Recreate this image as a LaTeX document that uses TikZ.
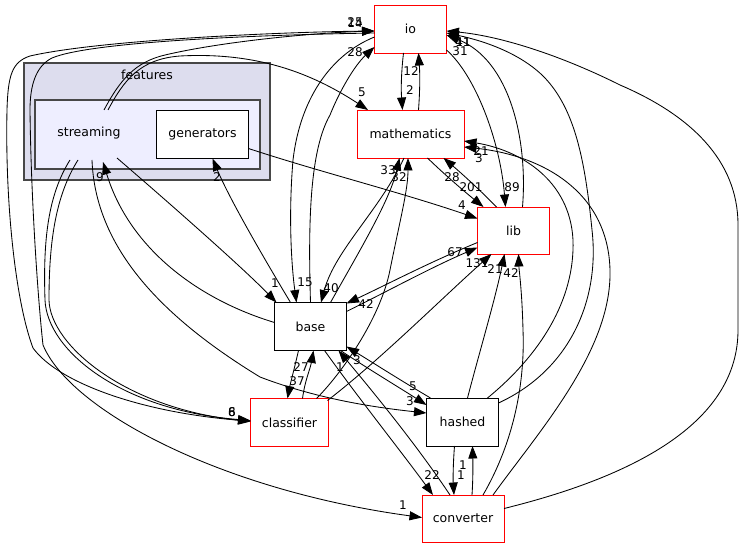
\documentclass[tikz,border=0pt]{standalone}
\usepackage{fontspec}
\setmainfont{DejaVu Sans}
\usetikzlibrary{arrows.meta,calc}
\definecolor{clusterA}{HTML}{DDDDEE}
\definecolor{clusterB}{HTML}{EEEEFF}
\begin{document}
\begin{tikzpicture}[x=1pt,y=-1pt,
  box/.style={draw=black, line width=0.9pt, fill=white, inner sep=0pt, font=\fontsize{12.5}{14}\selectfont},
  redbox/.style={box, draw=red},
  clus/.style={draw=black!72, line width=1.3pt},
  dep/.style={draw=black, line width=0.85pt, -{Triangle[length=12.5pt,width=9pt]}},
  lab/.style={font=\fontsize{12}{13}\selectfont, inner sep=0pt},
  txt/.style={font=\fontsize{12.5}{14}\selectfont, inner sep=0pt},
]
\useasboundingbox (0,0) rectangle (744,548);
% clusters
\draw[clus, fill=clusterA] (24,63) rectangle (270,180);
\node[txt] (featureslabel) at (147,75) {features};
\draw[clus, fill=clusterB] (35,100) rectangle (260,169);
\node[txt] (streaming) at (89,133) {streaming};
\node[box, minimum width=92pt, minimum height=48pt] (generators) at (202.5,134.5) {generators};
% nodes
\node[redbox, minimum width=72pt, minimum height=48pt] (io) at (410.5,29) {io};
\node[redbox, minimum width=107pt, minimum height=48pt] (math) at (410.5,134) {mathematics};
\node[redbox, minimum width=72pt, minimum height=47pt] (lib) at (513.5,230.5) {lib};
\node[box, minimum width=72pt, minimum height=48pt] (base) at (310.5,326.5) {base};
\node[redbox, minimum width=78pt, minimum height=48pt] (classifier) at (289.5,422.5) {classifier};
\node[box, minimum width=72pt, minimum height=48pt] (hashed) at (462.5,422) {hashed};
\node[redbox, minimum width=82pt, minimum height=47pt] (converter) at (463,518.5) {converter};

% edges
% streaming -> io
\draw[dep] ($(streaming)+(15,-23)$) .. controls (120,80) and (135,62) .. (165,55) .. controls (220,42) and (310,33) .. ($(io)+(-36,2)$);
% streaming -> mathematics
\draw[dep] ($(streaming)+(19,-23)$) .. controls (124,80) and (140,59) .. (180,56) .. controls (255,52) and (310,72) .. ($(math)+(-42.5,-24)$);
% classifier -> io (left loop)
\draw[dep] ($(classifier)+(-39,-1.5)$) .. controls (150,415) and (60,385) .. (33,348) .. controls (15,300) and (5,200) .. (7,110) .. controls (8,75) and (12,62) .. (30,56) .. controls (100,40) and (280,32) .. ($(io)+(-36,2)$);
% io -> converter (left loop)
\draw[dep] ($(io)+(-36,4)$) .. controls (250,35) and (90,42) .. (52,58) .. controls (36,66) and (30,85) .. (30,110) .. controls (31,200) and (38,300) .. (43,345) .. controls (70,410) and (220,490) .. ($(converter)+(-41,-1)$);
% streaming -> classifier
\draw[dep] ($(streaming)+(-19,27)$) .. controls (48,195) and (43,240) .. (45,300) .. controls (47,350) and (120,410) .. ($(classifier)+(-39,-2)$);
\draw[dep] ($(streaming)+(-11,27)$) .. controls (56,195) and (49,240) .. (49,300) .. controls (50,345) and (125,408) .. ($(classifier)+(-39,-1)$);
% streaming -> hashed
\draw[dep] ($(streaming)+(3,27)$) .. controls (95,240) and (150,310) .. (260,377) .. controls (320,400) and (380,408) .. ($(hashed)+(-36,-9)$);
% base -> streaming
\draw[dep] ($(base)+(-36,-4)$) .. controls (200,300) and (130,250) .. ($(streaming)+(14,29)$);
% streaming -> base
\draw[dep] ($(streaming)+(28,25)$) .. controls (160,195) and (240,265) .. ($(base)+(-34,-24)$);
% base -> generators
\draw[dep] ($(base)+(-20,-24)$) .. controls (265,260) and (230,200) .. ($(generators)+(10,24)$);
% generators -> lib
\draw[dep] ($(generators)+(46,14)$) .. controls (320,172) and (400,192) .. ($(lib)+(-36,-12)$);
% io <-> mathematics
\draw[dep] ($(io)+(-7,24)$) .. controls (401,75) and (401,90) .. ($(math)+(-8,-24)$);
\draw[dep] ($(math)+(8,-24)$) .. controls (420,90) and (420,75) .. ($(io)+(8,24)$);
% base <-> io
\draw[dep] ($(base)+(0,-24)$) .. controls (308,220) and (310,150) .. (330,115) .. controls (340,90) and (355,65) .. ($(io)+(-36,18)$);
\draw[dep] ($(io)+(-36,8)$) .. controls (330,55) and (300,100) .. (293,160) .. controls (288,220) and (292,270) .. ($(base)+(-14,-24)$);
% mathematics <-> base
\draw[dep] ($(math)+(-6.5,24)$) .. controls (380,210) and (335,250) .. ($(base)+(10.5,-24)$);
\draw[dep] ($(base)+(20,-24)$) .. controls (360,250) and (390,200) .. ($(math)+(-11,24)$);
% classifier -> mathematics
\draw[dep] ($(classifier)+(27,-24)$) .. controls (340,375) and (380,320) .. (390,270) .. controls (400,220) and (408,190) .. ($(math)+(-2.5,24)$);
% classifier -> lib
\draw[dep] ($(classifier)+(38,-22)$) .. controls (380,360) and (440,300) .. ($(lib)+(-22,23.5)$);
% base <-> lib
\draw[dep] ($(base)+(36,-15)$) .. controls (390,290) and (430,268) .. ($(lib)+(-36,17)$);
\draw[dep] ($(lib)+(-36,12)$) .. controls (430,262) and (390,283) .. ($(base)+(36,-23)$);
% hashed -> lib
\draw[dep] ($(hashed)+(5,-24)$) .. controls (480,350) and (495,300) .. ($(lib)+(-9,23.5)$);
% converter -> lib
\draw[dep] ($(converter)+(20,-23.5)$) .. controls (515,440) and (525,380) .. (523,330) .. controls (522,290) and (519,270) .. ($(lib)+(5,23.5)$);
% io <-> lib
\draw[dep] ($(io)+(36,21)$) .. controls (475,75) and (500,140) .. ($(lib)+(-8,-23.5)$);
\draw[dep] ($(lib)+(9,-23.5)$) .. controls (528,140) and (510,60) .. ($(io)+(36,6)$);
% hashed -> io
\draw[dep] ($(hashed)+(36,-19)$) .. controls (570,370) and (600,300) .. (592,230) .. controls (585,160) and (575,110) .. (545,78) .. controls (520,52) and (480,40) .. ($(io)+(36,4)$);
% converter -> io (right loop)
\draw[dep] ($(converter)+(41,-10)$) .. controls (640,475) and (738,420) .. (738,330) -- (738,225) .. controls (738,160) and (690,115) .. (620,85) .. controls (560,55) and (500,36) .. ($(io)+(36,2)$);
% hashed -> mathematics
\draw[dep] ($(hashed)+(25,-24)$) .. controls (540,355) and (575,300) .. (573,240) .. controls (570,180) and (520,150) .. ($(math)+(53.5,7)$);
% converter -> mathematics
\draw[dep] ($(converter)+(30,-23.5)$) .. controls (540,430) and (612,350) .. (610,270) .. controls (608,190) and (540,155) .. ($(math)+(53.5,13)$);
% lib <-> mathematics
\draw[dep] ($(lib)+(-17,-23.5)$) .. controls (480,190) and (460,172) .. ($(math)+(33,24)$);
\draw[dep] ($(math)+(17,24)$) .. controls (445,175) and (465,192) .. ($(lib)+(-30,-23.5)$);
% hashed <-> base
\draw[dep] ($(hashed)+(-32,-24)$) .. controls (400,380) and (375,364) .. ($(base)+(36,20)$);
\draw[dep] ($(base)+(30,24)$) .. controls (370,370) and (400,388) .. ($(hashed)+(-36,-17)$);
% converter <-> base
\draw[dep] ($(converter)+(-13,-23.5)$) .. controls (420,450) and (380,400) .. ($(base)+(28,24)$);
\draw[dep] ($(base)+(14,24)$) .. controls (360,400) and (400,450) .. ($(converter)+(-30,-23.5)$);
% base <-> classifier
\draw[dep] ($(base)+(-12,24)$) .. controls (294,370) and (290,385) .. ($(classifier)+(-2,-24)$);
\draw[dep] ($(classifier)+(13,-24)$) .. controls (305,380) and (310,370) .. ($(base)+(3,24)$);
% hashed <-> converter
\draw[dep] ($(hashed)+(-8,24)$) .. controls (453,465) and (453,480) .. ($(converter)+(-9,-23.5)$);
\draw[dep] ($(converter)+(9,-23.5)$) .. controls (473,480) and (473,465) .. ($(hashed)+(10,24)$);

% labels
\node[lab] (l01) at (355,22) {25};
\node[lab] (l02) at (355,23) {14};
\node[lab] (l03) at (355,52) {28};
\node[lab] (l04) at (411,71) {12};
\node[lab] (l05) at (410,90) {2};
\node[lab] (l06) at (362,92) {5};
\node[lab] (l07) at (463,42) {41};
\node[lab] (l08) at (463,42) {11};
\node[lab] (l09) at (460,51) {31};
\node[lab] (l10) at (481,151) {21};
\node[lab] (l11) at (479,158) {3};
\node[lab] (l12) at (388,170) {33};
\node[lab] (l13) at (399,177) {32};
\node[lab] (l14) at (452,177) {28};
\node[lab] (l15) at (471,187) {201};
\node[lab] (l16) at (512,187) {89};
\node[lab] (l17) at (462,205) {4};
\node[lab] (l18) at (455,252) {67};
\node[lab] (l19) at (477,263) {131};
\node[lab] (l20) at (495,269) {21};
\node[lab] (l21) at (511,273) {42};
\node[lab] (l22) at (366,304) {42};
\node[lab] (l23) at (305,282) {15};
\node[lab] (l24) at (275,283) {1};
\node[lab] (l25) at (331,288) {40};
\node[lab] (l26) at (301,367) {27};
\node[lab] (l27) at (297,381) {37};
\node[lab] (l28) at (340,367) {1};
\node[lab] (l29) at (357,360) {3};
\node[lab] (l30) at (413,386) {5};
\node[lab] (l31) at (410,401) {3};
\node[lab] (l32) at (232,412) {6};
\node[lab] (l33) at (232,412) {8};
\node[lab] (l34) at (100,177) {9};
\node[lab] (l35) at (217,177) {2};
\node[lab] (l36) at (432,475) {22};
\node[lab] (l37) at (461,475) {1};
\node[lab] (l38) at (463,465) {1};
\node[lab] (l39) at (403,505) {1};
\end{tikzpicture}
\end{document}
